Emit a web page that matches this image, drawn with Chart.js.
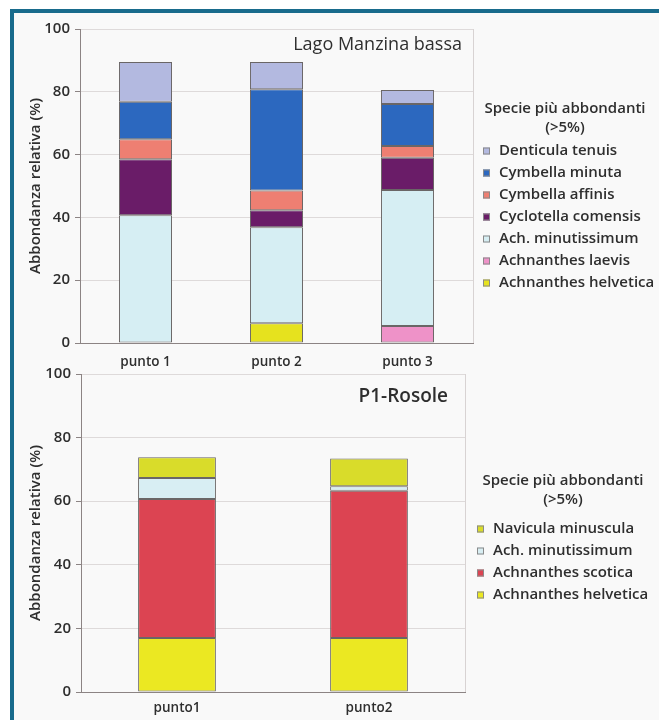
<!DOCTYPE html>
<html>
<head>
<meta charset="utf-8">
<script src="https://cdn.jsdelivr.net/npm/chart.js@4.4.1/dist/chart.umd.min.js"></script>
<style>
  html, body { margin: 0; padding: 0; background: #fff; overflow: hidden; }
  #page { position: relative; width: 659px; height: 720px; overflow: hidden; }
  #frame { position: absolute; left: 10px; top: 9px; width: 700px; height: 760px;
           border: 4px solid #186b8c; background: #f9f9f9; }
  canvas { position: absolute; left: 0; }
</style>
</head>
<body>
<div id="page">
  <div id="frame"></div>
  <canvas id="lago" width="659" height="375" style="top:0"></canvas>
  <canvas id="rosole" width="659" height="360" style="top:360px"></canvas>
</div>
<script>
// Lago Manzina bassa, stacked bottom -> top
const lagoCategories = ['punto 1', 'punto 2', 'punto 3'];
const lagoHelvetica = [null, 6.3, null];
const lagoLaevis = [null, null, 5.4];
const lagoMinutissimum = [40.7, 30.6, 43.3];
const lagoComensis = [17.8, 5.4, 10.3];
const lagoAffinis = [6.4, 6.3, 3.7];
const lagoMinuta = [11.9, 32.2, 13.4];
const lagoDenticula = [12.7, 8.7, 4.5];

// P1-Rosole, stacked bottom -> top
const rosoleCategories = ['punto1', 'punto2'];
const rosoleHelvetica = [17.0, 17.0];
const rosoleScotica = [43.7, 46.3];
const rosoleMinutissimum = [6.6, 1.4];
const rosoleNavicula = [6.5, 8.7];

const legendTitle = ['Specie più abbondanti', '(>5%)'];

const FONT = "'Open Sans', 'DejaVu Sans', sans-serif";
const TEXT = '#2e2e2e';
const AXIS = '#8c8484';

// draws the species list at the right of the plot, top of stack first
const sideLegend = {
  id: 'sideLegend',
  afterDraw(chart, args, opts) {
    const ctx = chart.ctx;
    const area = chart.chartArea;
    ctx.save();
    ctx.font = '600 15px ' + FONT;
    ctx.fillStyle = TEXT;
    ctx.textBaseline = 'middle';
    ctx.textAlign = 'center';
    legendTitle.forEach((line, i) => {
      ctx.fillText(line, area.right + opts.titleDx, opts.titleY + i * 19);
    });
    ctx.textAlign = 'left';
    const x = area.right + opts.dx;
    chart.data.datasets.slice().reverse().forEach((ds, i) => {
      const y = opts.y + i * opts.gap;
      ctx.fillStyle = ds.backgroundColor;
      ctx.fillRect(x, y - 3.5, 7, 7);
      ctx.strokeStyle = '#8a8a8a';
      ctx.lineWidth = 1;
      ctx.strokeRect(x + 0.5, y - 3, 6, 6);
      ctx.fillStyle = TEXT;
      ctx.fillText(ds.label, x + 16, y);
    });
    ctx.restore();
  }
};

// site name inside the plot, top right, and the light right edge of the plot
const cornerTitle = {
  id: 'cornerTitle',
  beforeDatasetsDraw(chart) {
    const {ctx, chartArea} = chart;
    ctx.save();
    ctx.strokeStyle = '#d8d3d3';
    ctx.lineWidth = 1;
    ctx.beginPath();
    ctx.moveTo(chartArea.right + 0.5, chartArea.top);
    ctx.lineTo(chartArea.right + 0.5, chartArea.bottom);
    ctx.stroke();
    ctx.restore();
  },
  afterDatasetsDraw(chart, args, opts) {
    const {ctx, chartArea} = chart;
    ctx.save();
    ctx.font = opts.font + FONT;
    ctx.fillStyle = TEXT;
    ctx.textAlign = 'right';
    ctx.textBaseline = 'middle';
    ctx.fillText(opts.text, chartArea.right - opts.dx, chartArea.top + opts.dy);
    ctx.restore();
  }
};

function bar(label, data, color) {
  return {
    label: label,
    data: data,
    backgroundColor: color,
    borderColor: '#6a6666',
    borderWidth: 1,
    borderSkipped: false,
    barPercentage: 0.405,
    categoryPercentage: 1
  };
}

function makeChart(id, labels, datasets, box) {
  return new Chart(document.getElementById(id), {
    type: 'bar',
    data: { labels: labels, datasets: datasets },
    plugins: [sideLegend, cornerTitle],
    options: {
      responsive: false,
      animation: false,
      layout: { padding: { top: box.top, right: box.right, left: 0, bottom: 0 } },
      scales: {
        x: {
          stacked: true,
          grid: { display: false, drawTicks: false },
          border: { color: AXIS },
          ticks: { padding: box.xPad, maxRotation: 0, color: TEXT, font: { family: FONT, size: 13.5, weight: '600' } },
          afterFit(scale) { scale.height = box.xHeight; }
        },
        y: {
          stacked: true,
          min: 0,
          max: 100,
          ticks: { stepSize: 20, padding: 5, color: TEXT, font: { family: FONT, size: 15, weight: '600' } },
          grid: { color: '#dedada', tickColor: AXIS, tickLength: 5 },
          border: { color: AXIS },
          title: {
            display: true,
            text: 'Abbondanza relativa (%)',
            color: TEXT,
            font: { family: FONT, size: 15, weight: '600' },
            padding: { top: 27, bottom: 0 }
          },
          afterFit(scale) { scale.width = box.left; }
        }
      },
      plugins: {
        legend: { display: false },
        tooltip: { enabled: false },
        sideLegend: box.legend,
        cornerTitle: box.title
      }
    }
  });
}

makeChart('lago', lagoCategories, [
  bar('Achnanthes helvetica', lagoHelvetica, '#e6e21e'),
  bar('Achnanthes laevis', lagoLaevis, '#ee92c8'),
  bar('Ach. minutissimum', lagoMinutissimum, '#d6eef3'),
  bar('Cyclotella comensis', lagoComensis, '#6a1c68'),
  bar('Cymbella affinis', lagoAffinis, '#ee7f72'),
  bar('Cymbella minuta', lagoMinuta, '#2c68bf'),
  bar('Denticula tenuis', lagoDenticula, '#b3b9e0')
], {
  top: 29, right: 186, left: 80, xHeight: 32, xPad: 11,
  legend: { dx: 10, titleDx: 92, titleY: 109, y: 151, gap: 22 },
  title: { text: 'Lago Manzina bassa', dx: 11, dy: 16, font: '18px ' }
});

makeChart('rosole', rosoleCategories, [
  bar('Achnanthes helvetica', rosoleHelvetica, '#ebe822'),
  bar('Achnanthes scotica', rosoleScotica, '#dc4452'),
  bar('Ach. minutissimum', rosoleMinutissimum, '#d8eef3'),
  bar('Navicula minuscula', rosoleNavicula, '#d9dc2a')
], {
  top: 14, right: 194, left: 81, xHeight: 28, xPad: 8,
  legend: { dx: 12, titleDx: 98, titleY: 121, y: 169, gap: 22 },
  title: { text: 'P1-Rosole', dx: 17, dy: 23, font: '600 19px ' }
});
</script>
</body>
</html>
